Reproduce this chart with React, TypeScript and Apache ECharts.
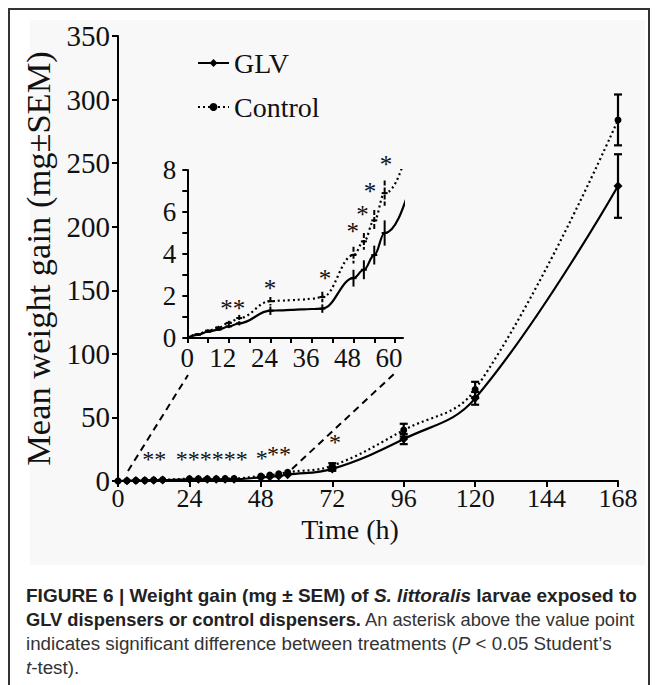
import React, { useEffect, useRef } from 'react';
import * as echarts from 'echarts';

// ---- data ----
const times = [0, 3, 6, 9, 12, 15, 24, 27, 30, 33, 36, 39, 48, 51, 54, 57, 72, 96, 120, 168];
const glv = [0, 0.15, 0.3, 0.4, 0.55, 0.7, 1.3, 1.32, 1.34, 1.36, 1.38, 1.4, 2.85, 3.25, 3.95, 5.0, 9.5, 33, 65, 232];
const control = [0, 0.18, 0.35, 0.5, 0.72, 0.95, 1.75, 1.78, 1.8, 1.83, 1.87, 1.95, 3.95, 4.6, 5.6, 6.9, 12, 40, 72, 284];
const glvSem = [0, 0.05, 0.05, 0.06, 0.08, 0.1, 0.2, 0, 0, 0, 0, 0.2, 0.4, 0.45, 0.45, 0.6, 1.5, 4, 5, 25];
const controlSem = [0, 0.05, 0.06, 0.08, 0.1, 0.15, 0.2, 0, 0, 0, 0, 0.25, 0.4, 0.4, 0.5, 0.6, 2, 5, 6, 20];

// significance asterisk groups [time, value, count] (main chart units / inset units)
const mainStars = [
  [12.2, 21, 2],
  [31.5, 21, 6],
  [48.3, 22, 1],
  [54.1, 25, 2],
  [72.9, 34.5, 1],
];
const insetStars = [
  [13.1, 1.65, 2], [23.9, 2.6, 1], [39.8, 3.08, 1],
  [47.8, 5.33, 1], [50.6, 6.1, 1], [52.8, 7.2, 1], [57.4, 8.5, 1],
];

const mainYTicks = { min: 0, max: 350, interval: 50 };
const mainXTicks = { min: 0, max: 168, interval: 24 };
const insetYTicks = { min: 0, max: 8, interval: 1, labelEvery: 2 };
const insetXTicks = { min: 0, max: 62.3, interval: 6, labelEvery: 12 };

const SERIF = 'Liberation Serif';
const SANS = 'Liberation Sans';
const INK = '#111';

function errBars(semArr: number[], filter: (t: number) => boolean, vals: number[]) {
  return times
    .map((t, i) => [t, vals[i], semArr[i]])
    .filter((d) => filter(d[0]) && d[2] > 0);
}

export default function App() {
  const ref = useRef<HTMLDivElement>(null);
  useEffect(() => {
    if (!ref.current) return;
    const chart = echarts.init(ref.current, undefined, { renderer: 'svg' });

    const mainErr = () => ({
      type: 'custom',
      xAxisIndex: 0,
      yAxisIndex: 0,
      z: 4,
      encode: { x: 0, y: 1 },
      renderItem: (params: any, api: any) => {
        const x = api.value(0), y = api.value(1), e = api.value(2);
        const top = api.coord([x, y + e]);
        const bot = api.coord([x, y - e]);
        const st = { stroke: '#000', lineWidth: 2.2 };
        return {
          type: 'group',
          children: [
            { type: 'line', shape: { x1: top[0], y1: top[1], x2: bot[0], y2: bot[1] }, style: st },
            { type: 'line', shape: { x1: top[0] - 4, y1: top[1], x2: top[0] + 4, y2: top[1] }, style: st },
            { type: 'line', shape: { x1: bot[0] - 4, y1: bot[1], x2: bot[0] + 4, y2: bot[1] }, style: st },
          ],
        };
      },
    });

    const insetErr = (dashed: boolean) => ({
      type: 'custom',
      xAxisIndex: 1,
      yAxisIndex: 1,
      z: 4,
      encode: { x: 0, y: 1 },
      renderItem: (params: any, api: any) => {
        const x = api.value(0), y = api.value(1), e = api.value(2);
        const top = api.coord([x, y + e]);
        const bot = api.coord([x, y - e]);
        const mid = api.coord([x, y]);
        const st: any = { stroke: '#000', lineWidth: 2 };
        if (dashed) st.lineDash = [5, 2];
        return {
          type: 'group',
          children: [
            { type: 'line', shape: { x1: top[0], y1: top[1], x2: bot[0], y2: bot[1] }, style: st },
            { type: 'line', shape: { x1: mid[0] - 3, y1: mid[1], x2: mid[0] + 3, y2: mid[1] }, style: { stroke: '#000', lineWidth: 2 } },
          ],
        };
      },
    });

    const stars = (axis: number, size: number) => ({
      type: 'custom',
      xAxisIndex: axis,
      yAxisIndex: axis,
      z: 6,
      clip: false,
      encode: { x: 0, y: 1 },
      renderItem: (params: any, api: any) => {
        const p = api.coord([api.value(0), api.value(1)]);
        const n = api.value(2);
        return {
          type: 'text',
          x: p[0],
          y: p[1] + size * 0.2,
          style: {
            text: '*'.repeat(n),
            fill: '#111',
            font: `${size}px "${SERIF}"`,
            align: 'center',
            verticalAlign: 'middle',
          },
        };
      },
    });

    const capRich = (bold: boolean, size: number) => ({
      fontFamily: SANS, fontSize: size, fontWeight: bold ? 'bold' : 'normal', fill: bold ? '#222' : '#333',
    });

    const option: any = {
      animation: false,
      graphic: [
        { type: 'rect', z: -10, shape: { x: 30, y: 20, width: 615, height: 545 }, style: { fill: '#f8f8f8' } },
        { type: 'rect', z: 100, shape: { x: 9, y: 9, width: 640, height: 700 }, style: { fill: 'none', stroke: '#333', lineWidth: 2 } },
        { type: 'line', z: 5, shape: { x1: 128, y1: 471, x2: 188, y2: 375 }, style: { stroke: '#000', lineWidth: 2, lineDash: [7, 5] } },
        { type: 'line', z: 5, shape: { x1: 292, y1: 469, x2: 395, y2: 373 }, style: { stroke: '#000', lineWidth: 2, lineDash: [7, 5] } },
        {
          type: 'text', left: 26, top: 586, z: 50,
          style: {
            text: '{b|FIGURE 6 | Weight gain (mg ± SEM) of }{bi|S. littoralis}{b| larvae exposed to}',
            rich: {
              b: capRich(true, 19),
              bi: { ...capRich(true, 19), fontStyle: 'italic' },
            },
          },
        },
        {
          type: 'text', left: 26, top: 610, z: 50,
          style: {
            text: '{b|GLV dispensers or control dispensers.}{r| An asterisk above the value point}',
            rich: { b: capRich(true, 18.3), r: capRich(false, 18.3) },
          },
        },
        {
          type: 'text', left: 26, top: 634, z: 50,
          style: {
            text: '{r|indicates significant difference between treatments (}{i|P}{r| < 0.05 Student’s}',
            rich: { r: capRich(false, 18.8), i: { ...capRich(false, 18.8), fontStyle: 'italic' } },
          },
        },
        {
          type: 'text', left: 26, top: 658, z: 50,
          style: {
            text: '{i|t}{r|-test).}',
            rich: { r: capRich(false, 18.8), i: { ...capRich(false, 18.8), fontStyle: 'italic' } },
          },
        },
      ],
      legend: {
        data: ['GLV', 'Control'],
        orient: 'vertical',
        left: 197,
        top: 49,
        padding: 0,
        itemWidth: 31,
        itemHeight: 10,
        itemGap: 16,
        textStyle: { fontFamily: SERIF, fontSize: 28, color: INK },
      },
      grid: [
        { left: 118, top: 36, width: 500, height: 445 },
        { left: 187.3, top: 170, width: 215.7, height: 168 },
      ],
      xAxis: [
        {
          type: 'value', gridIndex: 0, ...mainXTicks,
          name: 'Time (h)', nameLocation: 'middle', nameGap: 24,
          nameTextStyle: { fontFamily: SERIF, fontSize: 28, color: INK, padding: [0, 36, 0, 0] },
          axisLine: { lineStyle: { color: '#000', width: 2 } },
          axisTick: { show: true, length: 6, lineStyle: { color: '#000', width: 2 } },
          axisLabel: { fontFamily: SERIF, fontSize: 26, color: INK, margin: 4 },
          splitLine: { show: false },
        },
        {
          type: 'value', gridIndex: 1, min: insetXTicks.min, max: insetXTicks.max, interval: insetXTicks.interval,
          axisLine: { lineStyle: { color: '#000', width: 2 } },
          axisTick: { show: true, length: 5, lineStyle: { color: '#000', width: 2 } },
          axisLabel: {
            fontFamily: SERIF, fontSize: 27, color: INK, margin: 6, showMaxLabel: false,
            formatter: (v: number) => (v % insetXTicks.labelEvery === 0 ? (v === 0 ? '{z|0}' : '{a|' + v + '}') : ''),
            rich: {
              z: { fontFamily: SERIF, fontSize: 27, color: INK },
              a: { fontFamily: SERIF, fontSize: 27, color: INK, padding: [0, 12, 0, 0] },
            },
          },
          splitLine: { show: false },
        },
      ],
      yAxis: [
        {
          type: 'value', gridIndex: 0, ...mainYTicks,
          name: 'Mean weight gain (mg±SEM)', nameLocation: 'middle', nameGap: 62,
          nameTextStyle: { fontFamily: SERIF, fontSize: 34.5, color: INK },
          axisLine: { show: true, lineStyle: { color: '#000', width: 2 } },
          axisTick: { show: true, length: 6, lineStyle: { color: '#000', width: 2 } },
          axisLabel: { fontFamily: SERIF, fontSize: 29, color: INK, margin: 8 },
          splitLine: { show: false },
        },
        {
          type: 'value', gridIndex: 1, min: insetYTicks.min, max: insetYTicks.max, interval: insetYTicks.interval,
          axisLine: { show: true, lineStyle: { color: '#000', width: 2 } },
          axisTick: { show: true, length: 5, lineStyle: { color: '#000', width: 2 } },
          axisLabel: {
            fontFamily: SERIF, fontSize: 27, color: INK, margin: 11,
            formatter: (v: number) => (v % insetYTicks.labelEvery === 0 ? String(v) : ''),
          },
          splitLine: { show: false },
        },
      ],
      series: [
        {
          name: 'GLV', type: 'line', xAxisIndex: 0, yAxisIndex: 0, z: 3,
          data: times.map((t, i) => [t, glv[i]]),
          smooth: 0.4,
          symbol: 'diamond', symbolSize: 9,
          lineStyle: { color: '#000', width: 2.2, type: 'solid' },
          itemStyle: { color: '#000' },
        },
        {
          name: 'Control', type: 'line', xAxisIndex: 0, yAxisIndex: 0, z: 3,
          data: times.map((t, i) => [t, control[i]]),
          smooth: 0.4,
          symbol: 'circle', symbolSize: 7,
          lineStyle: { color: '#000', width: 2.2, type: [2, 3] },
          itemStyle: { color: '#000' },
        },
        { ...mainErr(), name: 'glvErr', data: errBars(glvSem, (t) => t >= 72, glv) },
        { ...mainErr(), name: 'ctlErr', data: errBars(controlSem, (t) => t >= 72, control) },
        {
          name: 'GLV inset', type: 'line', xAxisIndex: 1, yAxisIndex: 1, z: 3,
          data: times.map((t, i) => [t, glv[i]]),
          smooth: 0.4, smoothMonotone: 'x', showSymbol: false, clip: true,
          lineStyle: { color: '#000', width: 2.2 },
        },
        {
          name: 'Control inset', type: 'line', xAxisIndex: 1, yAxisIndex: 1, z: 3,
          data: times.map((t, i) => [t, control[i]]),
          smooth: 0.4, smoothMonotone: 'x', showSymbol: false, clip: true,
          lineStyle: { color: '#000', width: 2.2, type: [2, 3] },
        },
        { ...insetErr(false), name: 'glvErrIn', data: errBars(glvSem, (t) => t > 0 && t <= 60, glv) },
        { ...insetErr(true), name: 'ctlErrIn', data: errBars(controlSem, (t) => t > 0 && t <= 60, control) },
        { ...stars(0, 24), name: 'mainStars', data: mainStars },
        { ...stars(1, 25), name: 'insetStars', data: insetStars },
      ],
    };
    chart.setOption(option);
    return () => chart.dispose();
  }, []);
  return (
    <div
      ref={ref}
      style={{ position: 'absolute', left: 0, top: 0, width: 657, height: 685, background: '#fff' }}
    />
  );
}
